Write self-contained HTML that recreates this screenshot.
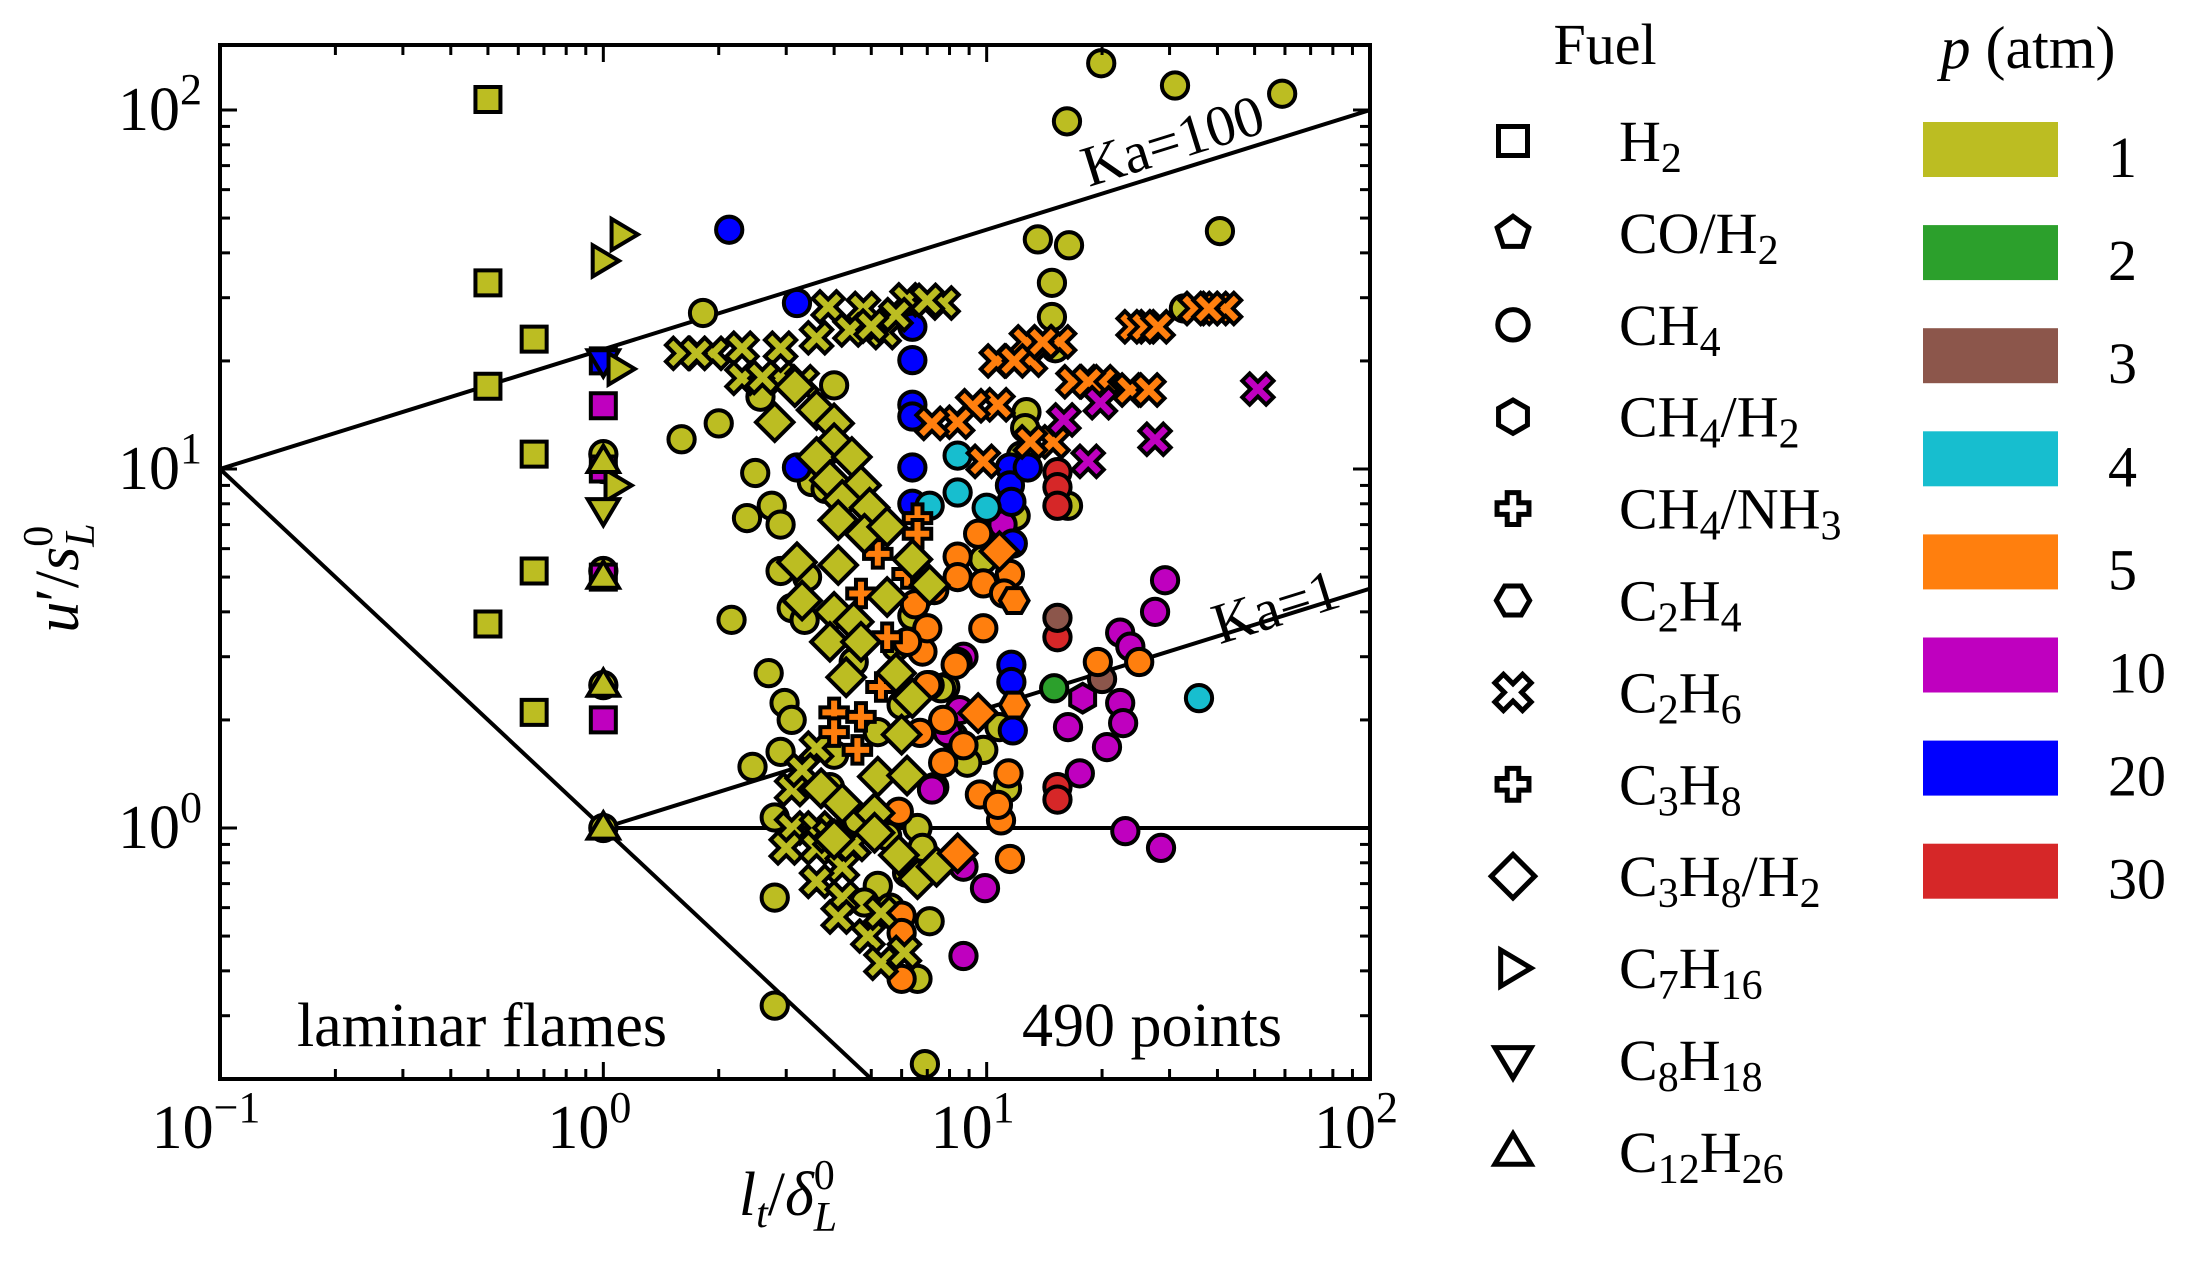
<!DOCTYPE html>
<html><head><meta charset="utf-8">
<style>
html,body{margin:0;padding:0;background:#fff;overflow:hidden;width:2204px;height:1268px;}
svg{display:block;font-family:"Liberation Serif",serif;}
</style></head>
<body>
<svg id="chart" width="2204" height="1268" viewBox="0 0 2204 1268" xmlns="http://www.w3.org/2000/svg">
<defs><clipPath id="plotclip"><rect x="220" y="45" width="1150" height="1034"/></clipPath></defs>
<rect width="2204" height="1268" fill="#fff"/>
<g id="regime-lines" clip-path="url(#plotclip)"></g>
<g id="marks" clip-path="url(#plotclip)"></g>
<g id="axes"></g>
<text x="1173" y="160" font-size="58" text-anchor="middle" transform="rotate(-17.3 1173 142)">Ka=100</text>
<text x="1276" y="626" font-size="58" text-anchor="middle" transform="rotate(-17.3 1276 608)">Ka=1</text>
<text x="482" y="1046" font-size="62" text-anchor="middle">laminar flames</text>
<text x="1152" y="1046" font-size="62" text-anchor="middle">490 points</text>
<text x="788" y="1215" font-size="62" text-anchor="middle"><tspan font-style="italic">l</tspan><tspan font-style="italic" font-size="42" dy="12">t</tspan><tspan dy="-12">/</tspan><tspan font-style="italic">δ</tspan><tspan font-size="42" dy="-26">0</tspan><tspan font-style="italic" font-size="42" dx="-21" dy="42">L</tspan></text>
<text x="0" y="0" font-size="62" text-anchor="middle" transform="translate(78 578) rotate(-90)"><tspan font-style="italic">u</tspan><tspan>′/</tspan><tspan font-style="italic">s</tspan><tspan font-size="42" dy="-26">0</tspan><tspan font-style="italic" font-size="42" dx="-21" dy="42">L</tspan></text>
<g id="legend"></g>
</svg>
<script>
// ---- data ----
const fuelNames=["H2","CO/H2","CH4","CH4/H2","CH4/NH3","C2H4","C2H6","C3H8","C3H8/H2","C7H16","C8H18","C12H26"];
const pressures=[1,2,3,4,5,10,20,30];
const pressureColors=["#bcbd22","#2ca02c","#8c564b","#17becf","#ff7f0e","#bf00bf","#0000ff","#d62728"];
const xTicks=[0.1,1,10,100];
const xTickExp=["−1","0","1","2"];
const yTicks=[1,10,100];
const yTickExp=["0","1","2"];

const h2P1X=[0.5,0.5,0.5,0.5,0.66,0.66,0.66,0.66];
const h2P1Y=[107,33,17,3.7,23,11,5.2,2.1];
const h2P10X=[1,1,1,1];
const h2P10Y=[15,10,5,2.0];
const h2P20X=[1]; const h2P20Y=[20];

const ch4P1X=[19.9,31,59,16.2,40.6,13.6,16.4,14.8,14.8,15.1,32.7,12.7,12.6,12.3,16.3,11.9,1.82,4.0,2.57,2.0,1.6,2.49,3.5,3.8,2.37,2.75,2.9,2.9,3.4,3.1,3.35,2.16,2.7,2.97,3.1,2.45,2.9,2.8,4.0,5.2,2.8,2.8,6.9,6.6,7.1,6.6,5.2,6.8,10.8,9.8,8.9,11.3,7.8,7.6,9.8,6.4,1,1,1,1,4.5,5.8,3.9,4.6,5.5,6.2,4.8,5.6,7.3,6.0,8.2];
const ch4P1Y=[135,117,111,93,46,43.6,42,33,26.5,21.7,28,14.4,13,10.9,7.9,7.4,27.2,17.1,15.9,13.4,12.1,9.75,9.2,8.8,7.3,7.9,7.0,5.2,5.0,4.1,3.8,3.8,2.7,2.23,2.0,1.48,1.63,1.07,1.6,1.85,0.64,0.32,0.22,0.38,0.55,1.0,0.69,0.88,1.91,1.65,1.52,1.29,2.47,2.45,5.6,3.9,11,5.2,2.5,1.0,2.9,3.2,1.3,1.05,0.95,0.75,0.62,0.6,1.3,2.2,1.8];
const ch4P5X=[8.4,8.4,9.8,11.5,11.1,9.5,9.8,25,19.5,8.4,6.8,7.1,8.3,7.7,6.7,7.7,5.9,10.9,11.4,9.6,10.7,11.5,6.0,6.0,6.0,8.7,7.0,6.5,7.0,7.3,6.2];
const ch4P5Y=[5.7,5.0,4.8,5.1,4.5,6.6,3.6,2.9,2.9,2.9,3.1,2.5,2.85,2.0,1.84,1.52,1.11,1.05,1.42,1.24,1.16,0.82,0.57,0.51,0.38,1.7,2.5,4.2,3.6,4.6,3.3];
const ch4P10X=[11,22.3,23.7,8.7,7.2,8.7,9.9,8.7,7.9,8.5,23,28.5,16.3,20.6,17.5,22.3,22.7,29.2,27.5,1];
const ch4P10Y=[7.0,3.5,3.2,3.0,1.28,0.78,0.68,0.44,1.85,2.13,0.98,0.88,1.91,1.68,1.42,2.23,1.96,4.9,4.0,10];
const ch4P20X=[2.13,3.2,6.4,6.4,6.4,6.4,3.2,6.4,6.4,11.5,11.5,11.6,12.8,11.7,11.6,11.6,11.7];
const ch4P20Y=[46.4,29,24.9,20.1,15.1,14,10.1,10.1,8.0,10.1,9,8.1,10.1,6.2,2.85,2.55,1.87];
const ch4P4X=[8.4,8.4,7.1,10,35.8];
const ch4P4Y=[10.9,8.6,7.9,7.8,2.3];
const ch4P30X=[15.3,15.3,15.3,15.3,15.3,15.3];
const ch4P30Y=[9.8,8.9,7.9,3.4,1.3,1.2];
const ch4P3X=[15.3,20]; const ch4P3Y=[3.85,2.6];
const ch4P2X=[15]; const ch4P2Y=[2.45];

const c2h6P1X=[3.86,4.77,6.2,7.7,7.0,4.4,5.4,5.8,5.0,3.6,2.9,2.3,1.93,1.6,1.75,2.3,2.9,2.6,3.3,3.1,3.1,3.6,3.0,3.6,4.2,3.6,4.2,4.1,4.9,5.3,5.3,6.1,3.6,3.3,4.5,3.9];
const c2h6P1Y=[28.3,28,29.6,29,29.5,24.4,24,26.9,25,23.2,21.7,21.7,21,21,21,17.9,17.9,18,17.5,1.28,1.0,1.0,0.88,0.88,0.78,0.71,0.64,0.565,0.5,0.58,0.42,0.45,1.67,1.45,0.9,0.95];
const c2h6P5X=[15.5,13,10.6,12.7,11.8,14,20,16.8,18.4,23.7,26.5,24.1,25.9,28,10.7,9.2,8.4,7.2,14.9,13,9.8,35,40,42,38];
const c2h6P5Y=[22.6,20.1,20,22.6,20,22.6,17.5,17.5,17.5,16.6,16.6,24.9,24.9,24.9,15.1,15,13.5,13.4,11.9,11.9,10.5,28,28,28,28];
const c2h6P10X=[19.8,15.9,18.4,51,27.5];
const c2h6P10Y=[15.3,13.7,10.5,16.7,12.1];

const c3h8h2P1X=[3.16,2.8,3.6,4.0,4.0,3.6,4.45,3.9,4.7,4.2,4.95,4.1,4.8,5.5,3.2,4.1,6.4,7.1,5.5,3.3,4.0,4.5,3.9,4.7,4.3,5.8,6.4,6.0,5.2,6.2,3.7,4.2,5.1,4.0,5.1,5.9,6.6,7.4];
const c3h8h2P1Y=[16.9,13.5,14.6,13.4,11.8,10.8,10.8,9.3,9.0,8.2,7.8,7.2,6.6,6.9,5.5,5.4,5.6,4.75,4.4,4.3,4.0,3.75,3.3,3.3,2.63,2.7,2.3,1.82,1.39,1.4,1.29,1.17,1.1,0.93,0.97,0.84,0.72,0.78];
const c3h8h2P5X=[9.5,8.4,10.8];
const c3h8h2P5Y=[2.09,0.85,5.9];
const c3h8P5X=[4.0,4.7,4.0,4.6,5.3,6.6,5.2,4.7,5.5,6.6,6.2];
const c3h8P5Y=[2.1,2.04,1.85,1.65,2.47,7.3,5.8,4.5,3.4,6.6,5.1];
const c2h4P5X=[11.8,11.8]; const c2h4P5Y=[4.3,2.2];
const ch4h2P10X=[17.8]; const ch4h2P10Y=[2.3];
const c7h16P1X=[1.12,1.0,1.1,1.08]; const c7h16P1Y=[45,38,19,9];
const c8h18P1X=[1]; const c8h18P1Y=[7.7];
const c8h18P20X=[1]; const c8h18P20Y=[20];
const c12h26P1X=[1,1,1,1]; const c12h26P1Y=[10.5,5,2.5,1.0];

const series=[
 {name:"h2-p1",f:0,p:0,x:h2P1X,y:h2P1Y},
 {name:"ch4-p1",f:2,p:0,x:ch4P1X,y:ch4P1Y},
 {name:"ch4-p10",f:2,p:5,x:ch4P10X,y:ch4P10Y},
 {name:"h2-p10",f:0,p:5,x:h2P10X,y:h2P10Y},
 {name:"h2-p20",f:0,p:6,x:h2P20X,y:h2P20Y},
 {name:"c8h18-p20",f:10,p:6,x:c8h18P20X,y:c8h18P20Y},
 {name:"ch4-p20",f:2,p:6,x:ch4P20X,y:ch4P20Y},
 {name:"ch4-p4",f:2,p:3,x:ch4P4X,y:ch4P4Y},
 {name:"ch4-p30",f:2,p:7,x:ch4P30X,y:ch4P30Y},
 {name:"ch4-p3",f:2,p:2,x:ch4P3X,y:ch4P3Y},
 {name:"ch4-p2",f:2,p:1,x:ch4P2X,y:ch4P2Y},
 {name:"ch4-p5",f:2,p:4,x:ch4P5X,y:ch4P5Y},
 {name:"c2h6-p1",f:6,p:0,x:c2h6P1X,y:c2h6P1Y},
 {name:"c2h6-p5",f:6,p:4,x:c2h6P5X,y:c2h6P5Y},
 {name:"c2h6-p10",f:6,p:5,x:c2h6P10X,y:c2h6P10Y},
 {name:"c3h8-p5",f:7,p:4,x:c3h8P5X,y:c3h8P5Y},
 {name:"c3h8h2-p1",f:8,p:0,x:c3h8h2P1X,y:c3h8h2P1Y},
 {name:"c3h8h2-p5",f:8,p:4,x:c3h8h2P5X,y:c3h8h2P5Y},
 {name:"c2h4-p5",f:5,p:4,x:c2h4P5X,y:c2h4P5Y},
 {name:"ch4h2-p10",f:3,p:5,x:ch4h2P10X,y:ch4h2P10Y},
 {name:"c7h16-p1",f:9,p:0,x:c7h16P1X,y:c7h16P1Y},
 {name:"c8h18-p1",f:10,p:0,x:c8h18P1X,y:c8h18P1Y},
 {name:"c12h26-p1",f:11,p:0,x:c12h26P1X,y:c12h26P1Y}
];

// ---- axes ----
const PL=220,PR=1370,PT=45,PB=1079;
function X(v){return PL+(Math.log10(v)+1)*(PR-PL)/3;}
function Y(v){return 828-Math.log10(v)*359;}
const NS="http://www.w3.org/2000/svg";
function mk(tag,attrs,parent){const e=document.createElementNS(NS,tag);for(const k in attrs)e.setAttribute(k,attrs[k]);parent.appendChild(e);return e;}

function shapePath(f,s){
 const pts=a=>"M"+a.map(p=>p[0].toFixed(2)+","+p[1].toFixed(2)).join("L")+"Z";
 const poly=(n,r,rot)=>{const a=[];for(let i=0;i<n;i++){const t=rot+i*2*Math.PI/n;a.push([r*Math.cos(t),r*Math.sin(t)]);}return pts(a);};
 const plus=(r,w,rot)=>{const b=[[-w,-r],[w,-r],[w,-w],[r,-w],[r,w],[w,w],[w,r],[-w,r],[-w,w],[-r,w],[-r,-w],[-w,-w]];const c=Math.cos(rot),sn=Math.sin(rot);return pts(b.map(p=>[p[0]*c-p[1]*sn,p[0]*sn+p[1]*c]));};
 switch(f){
  case 0:return pts([[-s,-s],[s,-s],[s,s],[-s,s]]);
  case 1:return poly(5,s*1.15,-Math.PI/2);
  case 2:return null;
  case 3:return poly(6,s*1.15,-Math.PI/2);
  case 4:return plus(s*1.1,s*0.4,0);
  case 5:return poly(6,s*1.15,0);
  case 6:return plus(s*1.35,s*0.42,Math.PI/4);
  case 7:return plus(s*1.1,s*0.4,0);
  case 8:return pts([[0,-s*1.5],[s*1.5,0],[0,s*1.5],[-s*1.5,0]]);
  case 9:return pts([[s*1.25,0],[-s*0.85,-s*1.25],[-s*0.85,s*1.25]]);
  case 10:return pts([[0,s*1.25],[-s*1.25,-s*0.85],[s*1.25,-s*0.85]]);
  case 11:return pts([[0,-s*1.25],[-s*1.25,s*0.85],[s*1.25,s*0.85]]);
 }
}
function drawMarker(parent,f,cx,cy,s,fill,sw){
 const d=shapePath(f,s);
 if(d===null)return mk("circle",{cx:cx,cy:cy,r:s*1.05,fill:fill,stroke:"#000","stroke-width":sw},parent);
 return mk("path",{d:d,transform:"translate("+cx.toFixed(2)+" "+cy.toFixed(2)+")",fill:fill,stroke:"#000","stroke-width":sw,"stroke-linejoin":"miter"},parent);
}

// regime lines
const lines=document.getElementById("regime-lines");
const lineDefs=[[0.1,10,100,100,"ka100-line"],[0.1,10,100,0.01,"flamelet-boundary-line"],[1,1,100,100**(1/3),"ka1-line"],[1,1,100,1,"unity-line"]];
lineDefs.forEach(l=>{
 const e=mk("line",{x1:X(l[0]),y1:Y(l[1]),x2:X(l[2]),y2:Y(l[3]),stroke:"#000","stroke-width":4},lines);
 
 
});

// markers
const marks=document.getElementById("marks");
series.forEach(sr=>{
 const g=mk("g",{},marks);
 
 
 for(let i=0;i<sr.x.length;i++){
  const m=drawMarker(g,sr.f,X(sr.x[i]),Y(sr.y[i]),12.5,pressureColors[sr.p],4);
  
  
 }
});

// axes frame and ticks
const ax=document.getElementById("axes");
const frame=mk("rect",{x:PL,y:PT,width:PR-PL,height:PB-PT,fill:"none",stroke:"#000","stroke-width":4},ax);


for(let d=-1;d<2;d++){for(let k=1;k<10;k++){
 const v=k*Math.pow(10,d);const x=X(v);const L=k===1?17:10;
 mk("line",{x1:x,y1:PB,x2:x,y2:PB-L,stroke:"#000","stroke-width":3},ax);
 mk("line",{x1:x,y1:PT,x2:x,y2:PT+L,stroke:"#000","stroke-width":3},ax);
}}
for(let d=-1;d<3;d++){for(let k=1;k<10;k++){
 const v=k*Math.pow(10,d);const y=Y(v);if(y<PT||y>PB)continue;const L=k===1?17:10;
 mk("line",{x1:PL,y1:y,x2:PL+L,y2:y,stroke:"#000","stroke-width":3},ax);
 mk("line",{x1:PR,y1:y,x2:PR-L,y2:y,stroke:"#000","stroke-width":3},ax);
}}
xTicks.forEach((v,i)=>{
 const t=mk("text",{x:X(v)-14,y:1148,"font-size":62,"text-anchor":"middle"},ax);
 
 
 t.appendChild(document.createTextNode("10"));
 const s=mk("tspan",{"font-size":44,dy:-26},t);s.textContent=xTickExp[i];
});
yTicks.forEach((v,i)=>{
 const t=mk("text",{x:202,y:Y(v)+20,"font-size":62,"text-anchor":"end"},ax);
 
 
 const a=mk("tspan",{},t);a.textContent="10";
 const s=mk("tspan",{"font-size":44,dy:-26},t);s.textContent=yTickExp[i];
});

// legend
const lg=document.getElementById("legend");
const ft=mk("text",{x:1605,y:64,"font-size":58,"text-anchor":"middle"},lg);ft.textContent="Fuel";


const pt=mk("text",{x:2028,y:68,"font-size":60,"text-anchor":"middle"},lg);


const pi=mk("tspan",{"font-style":"italic"},pt);pi.textContent="p";
const pr=mk("tspan",{},pt);pr.textContent=" (atm)";
fuelNames.forEach((n,i)=>{
 const cy=141+i*91.9;
 const m=drawMarker(lg,i,1513,cy,14.5,"none",5);
 
 
 const t=mk("text",{x:1619,y:cy+20,"font-size":58},lg);
 
 
 const parts=n.match(/[A-Za-z\/]+|\d+/g);
 let sub=false;
 parts.forEach(p=>{
  const isNum=/^\d+$/.test(p);
  const sp=mk("tspan",isNum?{"font-size":42,dy:sub?0:11}:{"font-size":58,dy:sub?-11:0},t);
  sp.textContent=p;sub=isNum;
 });
});
pressures.forEach((p,i)=>{
 const cy=149+i*103.1;
 const r=mk("rect",{x:1923,y:cy-27,width:135,height:55,fill:pressureColors[i]},lg);
 
 
 const t=mk("text",{x:2108,y:cy+28,"font-size":58},lg);t.textContent=String(p);
 
 
});
</script>
</body></html>
